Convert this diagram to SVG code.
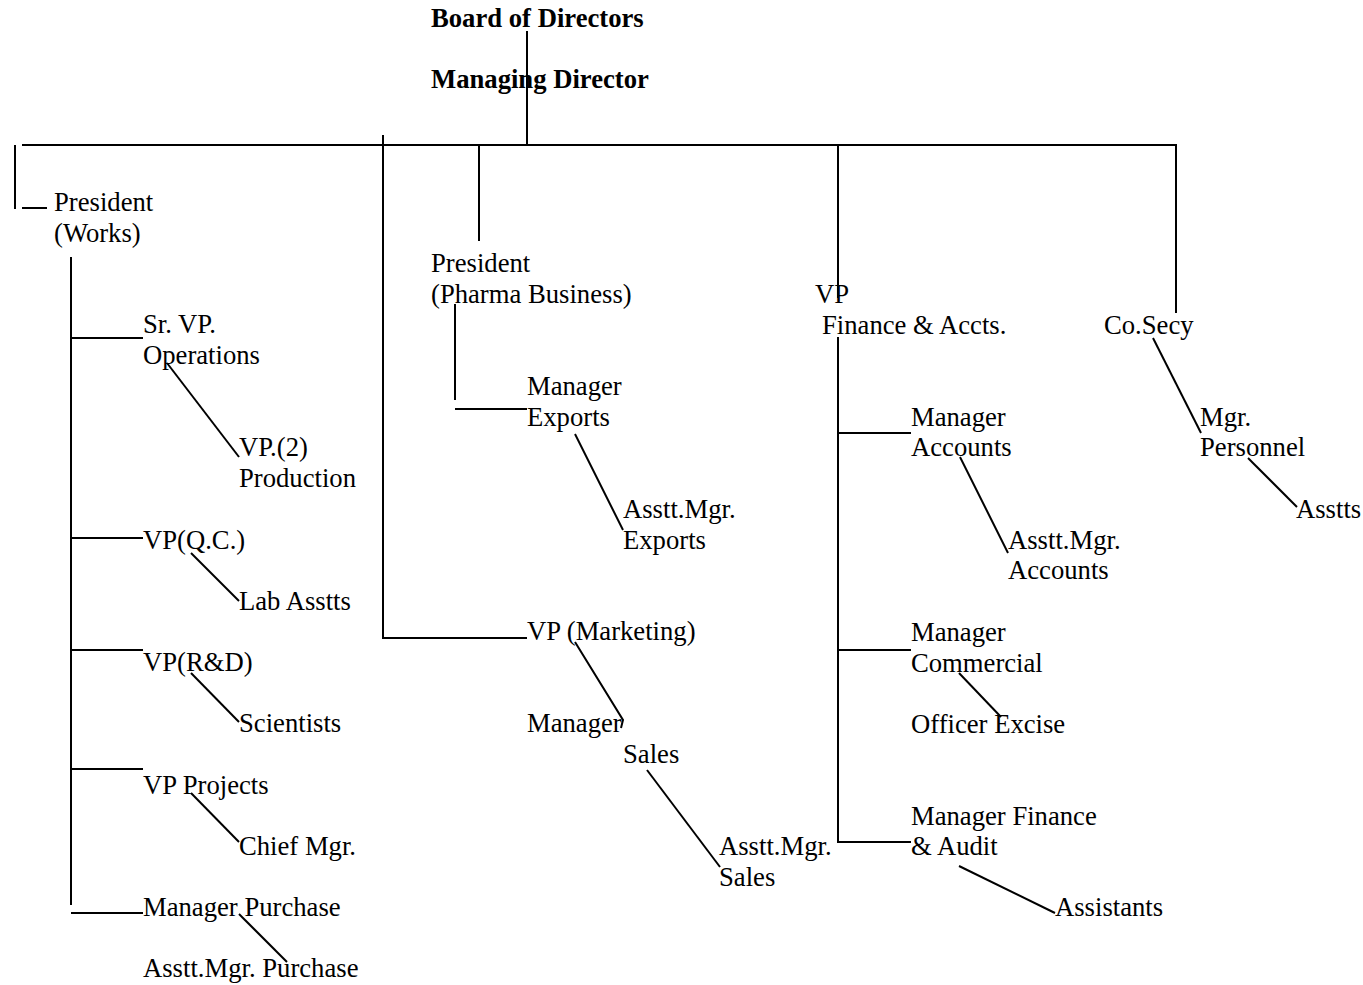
<svg xmlns="http://www.w3.org/2000/svg" width="1363" height="985" viewBox="0 0 1363 985">
<style>
text{font-family:"Liberation Serif","Times New Roman",serif;font-size:26.67px;fill:#000}
.b{font-weight:bold}
.c line,.c polyline{stroke:#000;stroke-width:2;fill:none}
</style>
<rect width="1363" height="985" fill="#fff"/>
<g class="c" id="connectors">
<line x1="527" y1="31" x2="527" y2="145"/>
<line x1="22" y1="145" x2="1177" y2="145"/>
<line x1="15" y1="145" x2="15" y2="209"/>
<line x1="22" y1="208" x2="47" y2="208"/>
<line x1="383" y1="135" x2="383" y2="638"/>
<line x1="382" y1="638" x2="527" y2="638"/>
<line x1="479" y1="145" x2="479" y2="241"/>
<line x1="838" y1="145" x2="838" y2="298"/>
<line x1="838" y1="337" x2="838" y2="843"/>
<line x1="838" y1="433" x2="911" y2="433"/>
<line x1="838" y1="650" x2="911" y2="650"/>
<line x1="838" y1="842" x2="911" y2="842"/>
<line x1="1176" y1="145" x2="1176" y2="313"/>
<line x1="71" y1="257" x2="71" y2="905"/>
<line x1="71" y1="338" x2="143" y2="338"/>
<line x1="71" y1="538" x2="143" y2="538"/>
<line x1="71" y1="650" x2="143" y2="650"/>
<line x1="71" y1="769" x2="143" y2="769"/>
<line x1="71" y1="913" x2="143" y2="913"/>
<line x1="167" y1="363" x2="239" y2="457"/>
<line x1="191" y1="553" x2="239" y2="601"/>
<line x1="191" y1="673" x2="239" y2="722"/>
<line x1="191" y1="793" x2="239" y2="842"/>
<line x1="239" y1="914" x2="287" y2="962"/>
<line x1="455" y1="304" x2="455" y2="400"/>
<line x1="455" y1="409" x2="527" y2="409"/>
<line x1="575" y1="434" x2="623" y2="530"/>
<polyline points="575,642 623,720 621,728"/>
<line x1="647" y1="770" x2="720" y2="867"/>
<line x1="960" y1="457" x2="1008" y2="553"/>
<line x1="959" y1="673" x2="1001" y2="717"/>
<line x1="959" y1="866" x2="1055" y2="913"/>
<line x1="1153" y1="338" x2="1201" y2="433"/>
<line x1="1248" y1="458" x2="1297" y2="507"/>
</g>
<g id="board"><text class="b" x="431" y="27">Board of Directors</text></g>
<g id="md"><text class="b" x="431" y="88">Managing Director</text></g>
<g id="pres-works"><text x="54" y="211">President</text><text x="54" y="242">(Works)</text></g>
<g id="srvp"><text x="143" y="333">Sr. VP.</text><text x="143" y="364">Operations</text></g>
<g id="vp2"><text x="239" y="456">VP.(2)</text><text x="239" y="487">Production</text></g>
<g id="vpqc"><text x="143" y="549">VP(Q.C.)</text></g>
<g id="lab"><text x="239" y="610">Lab Asstts</text></g>
<g id="vprd"><text x="143" y="671">VP(R&amp;D)</text></g>
<g id="sci"><text x="239" y="732">Scientists</text></g>
<g id="vpproj"><text x="143" y="794">VP Projects</text></g>
<g id="chief"><text x="239" y="855">Chief Mgr.</text></g>
<g id="mgrpur"><text x="143" y="916">Manager Purchase</text></g>
<g id="asstpur"><text x="143" y="977">Asstt.Mgr. Purchase</text></g>
<g id="pres-pharma"><text x="431" y="272">President</text><text x="431" y="303">(Pharma Business)</text></g>
<g id="mgrexp"><text x="527" y="395">Manager</text><text x="527" y="426">Exports</text></g>
<g id="asstexp"><text x="623" y="518">Asstt.Mgr.</text><text x="623" y="549">Exports</text></g>
<g id="vpmkt"><text x="527" y="640">VP (Marketing)</text></g>
<g id="mgrsales"><text x="527" y="732">Manager</text><text x="623" y="763">Sales</text></g>
<g id="asstsales"><text x="719" y="855">Asstt.Mgr.</text><text x="719" y="886">Sales</text></g>
<g id="vpfin"><text x="815" y="303">VP</text><text x="822" y="334">Finance &amp; Accts.</text></g>
<g id="cosecy"><text x="1104" y="334">Co.Secy</text></g>
<g id="mgrpers"><text x="1200" y="426">Mgr.</text><text x="1200" y="456">Personnel</text></g>
<g id="asstts"><text x="1296" y="518">Asstts</text></g>
<g id="mgracc"><text x="911" y="426">Manager</text><text x="911" y="456">Accounts</text></g>
<g id="asstacc"><text x="1008" y="549">Asstt.Mgr.</text><text x="1008" y="579">Accounts</text></g>
<g id="mgrcom"><text x="911" y="641">Manager</text><text x="911" y="672">Commercial</text></g>
<g id="excise"><text x="911" y="733">Officer Excise</text></g>
<g id="mgrfin"><text x="911" y="825">Manager Finance</text><text x="911" y="855">&amp; Audit</text></g>
<g id="assistants"><text x="1055" y="916">Assistants</text></g>
</svg>
